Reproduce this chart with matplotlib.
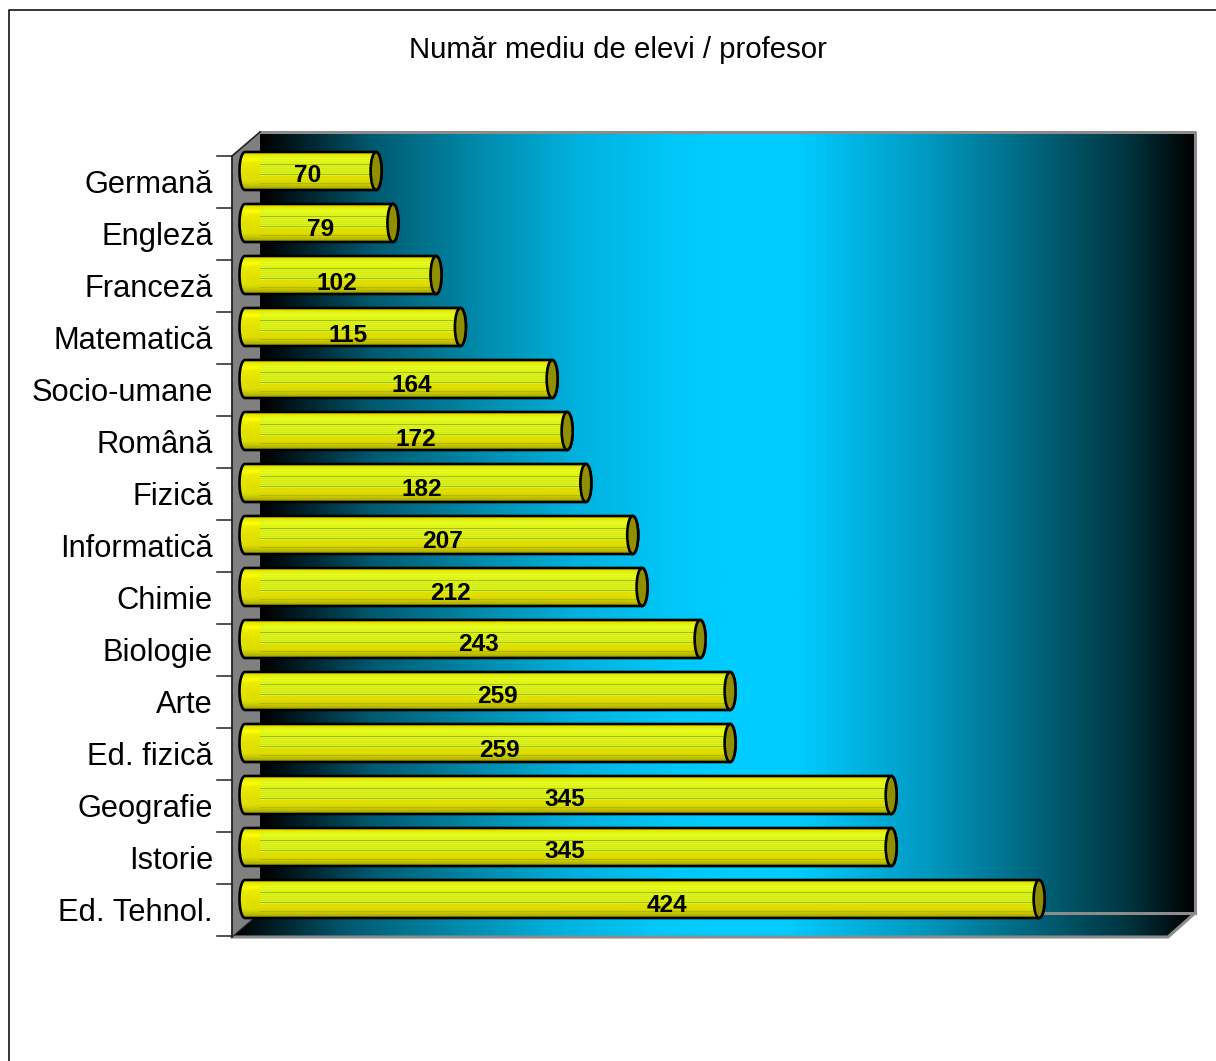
import numpy as np
import matplotlib
matplotlib.use("Agg")
import matplotlib.pyplot as plt
from matplotlib.colors import LinearSegmentedColormap
from matplotlib.patches import Polygon, Ellipse

categories = ["Germană", "Engleză", "Franceză", "Matematică", "Socio-umane", "Română", "Fizică",
              "Informatică", "Chimie", "Biologie", "Arte", "Ed. fizică", "Geografie", "Istorie", "Ed. Tehnol."]
values = [70, 79, 102, 115, 164, 172, 182, 207, 212, 243, 259, 259, 345, 345, 424]
title = "Număr mediu de elevi / profesor"

# hand placed label nudges, in pixels
label_dx = [-2.5, 2, -3.5, -5, 13, 10, 6.5, 4, 6.5, 6.4, 9.5, 11.5, -3.5, -3.5, 25]
label_dy = [4.5, 6.5, 8.5, 8.5, 7, 8.5, 6.5, 6.5, 7, 5.5, 5.5, 7.5, 5, 5, 7]

W, H = 1216, 1061
plt.rcParams['font.family'] = ['Liberation Sans', 'DejaVu Sans']

fig = plt.figure(figsize=(W / 100, H / 100), dpi=100, facecolor='white')

# pixel axes for the fake 3d box
bg = fig.add_axes([0, 0, 1, 1])
bg.set_xlim(0, W)
bg.set_ylim(H, 0)
bg.axis('off')

wall_cmap = LinearSegmentedColormap.from_list("wall", [
    (0.0, "#000000"), (0.043, "#002028"), (0.12, "#005a70"), (0.228, "#0088a8"), (0.335, "#00b0dd"),
    (0.442, "#00c8f8"), (0.495, "#00ccff"), (0.574, "#00ccff"), (0.717, "#0098c0"), (0.824, "#006880"),
    (0.93, "#003540"), (1.0, "#000000")])
grad = np.linspace(0, 1, 512).reshape(1, -1)

bg.imshow(grad, extent=(260, 1195, 913, 132), cmap=wall_cmap, aspect='auto', zorder=1)
floor_img = bg.imshow(grad, extent=(232, 1195, 937, 913), cmap=wall_cmap, aspect='auto', zorder=1)
floor_poly = Polygon([(232, 937), (260, 913), (1195, 913), (1168, 937)], closed=True,
                     facecolor='none', edgecolor='none', transform=bg.transData)
bg.add_patch(floor_poly)
floor_img.set_clip_path(floor_poly)
bg.add_patch(Polygon([(232, 156), (260, 132), (260, 913), (232, 937)], closed=True,
                     facecolor='#808080', edgecolor='none', zorder=2))

bg.set_xlim(0, W)
bg.set_ylim(H, 0)

gray = '#8c8c8c'
bg.plot([260, 1195, 1195], [132, 132, 913], color=gray, lw=2.2, zorder=3)
bg.plot([260, 1195], [913, 913], color=gray, lw=2.2, zorder=3)
bg.plot([232, 1168, 1195], [937, 937, 913], color=gray, lw=2.2, zorder=3)
bg.plot([232, 260], [937, 913], color='#222222', lw=0.8, zorder=3)
bg.plot([232, 260], [156, 132], color='#222222', lw=1.2, zorder=3)
bg.plot([232, 232], [156, 937], color='#222222', lw=1.3, zorder=3)
for i in range(len(categories) + 1):
    bg.plot([217, 232], [156 + 52 * i] * 2, color='#222222', lw=1.1, zorder=3)

# outer frame
bg.plot([8.5, 8.5, W], [H, 9.5, 9.5], color='black', lw=1.1, zorder=3)

bg.text(618, 50, title, ha='center', va='center', fontsize=21.2, color='black')
for i, name in enumerate(categories):
    bg.text(213, 185 + 52 * i, name, ha='right', va='center', fontsize=22.2, color='black')

# bars live on a real value scale: 0 at 245 px, 1.873 px per unit, rows 52 px apart from 171 px
px_per_unit = 1.873
left_px, right_px, top_px, bottom_px = 232, 1195, 132, 937
ax = fig.add_axes([left_px / W, 1 - bottom_px / H, (right_px - left_px) / W, (bottom_px - top_px) / H])
ax.axis('off')
ax.patch.set_alpha(0)

bar_cmap = LinearSegmentedColormap.from_list("bar", [
    (0.0, "#dcdc00"), (0.1, "#eeee00"), (0.18, "#ffff00"), (0.3, "#eaea00"), (0.55, "#e2e200"),
    (0.78, "#dcdc00"), (0.9, "#c0c000"), (1.0, "#a0a000")])
smooth = bar_cmap(np.linspace(0, 1, 38))
stripes = smooth.copy()
for row in range(5, 25, 2):
    stripes[row, :3] = [0.80, 0.98, 0.20]
for row in (12, 22, 31):
    stripes[row, :3] = [0.70, 0.72, 0.0]
smooth = smooth[:, None, :]
stripes = stripes[:, None, :]

half_h = 19 / 52
half_w = 5.5 / px_per_unit
wall_start = (260 - 245) / px_per_unit
theta = np.linspace(0, np.pi, 40)
for i, v in enumerate(values):
    # left end of the cylinder round, right end closed off by the cap
    lx = -half_w * np.sin(theta)
    ly = i - half_h * np.cos(theta)
    rx = v + half_w * np.sin(theta)
    ry = i + half_h * np.cos(theta)
    body = Polygon(np.column_stack([np.r_[lx, rx], np.r_[ly, ry]]), closed=True, facecolor='none',
                   edgecolor='black', lw=1.9, zorder=4)
    ax.add_patch(body)
    img = ax.imshow(smooth, extent=(-half_w, wall_start, i + half_h, i - half_h), aspect='auto',
                    interpolation='nearest', zorder=3)
    img.set_clip_path(body)
    img = ax.imshow(stripes, extent=(wall_start, v + half_w, i + half_h, i - half_h), aspect='auto',
                    interpolation='nearest', zorder=3)
    img.set_clip_path(body)
    ax.add_patch(Ellipse((v, i), 2 * half_w, 2 * half_h, facecolor='#8f8f00', edgecolor='black',
                         lw=1.9, zorder=5))
    ax.annotate(str(v), xy=(v / 2, i), xytext=(label_dx[i] * 0.72, -label_dy[i] * 0.72),
                textcoords='offset points', ha='center', va='center', fontsize=17.6,
                fontweight='bold', color='black', zorder=6)

ax.set_xlim((left_px - 245) / px_per_unit, (right_px - 245) / px_per_unit)
ax.set_ylim((bottom_px - 171) / 52, (top_px - 171) / 52)

fig.savefig("out.png", dpi=100, facecolor='white')
